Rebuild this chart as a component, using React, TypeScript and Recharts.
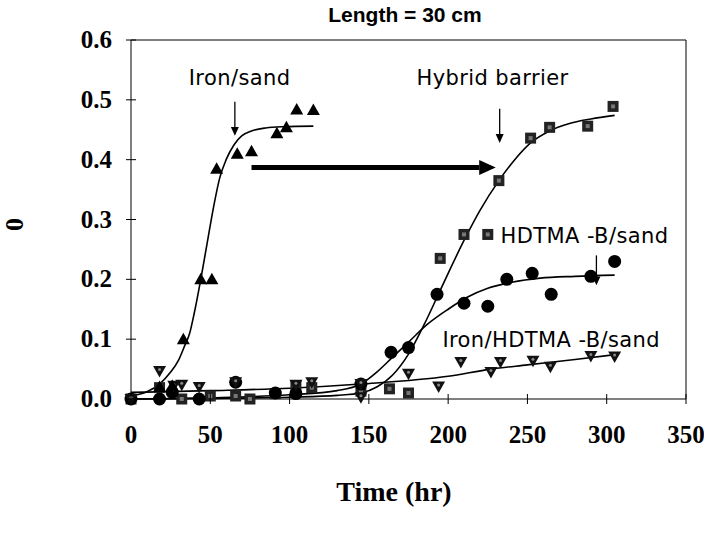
import {
  ComposedChart,
  Scatter,
  Line,
  XAxis,
  YAxis,
  ReferenceLine,
  ReferenceDot,
} from 'recharts'

// measured points (time in hr, relative value)
const ironSandT = [18, 26, 33, 44, 51, 54, 67, 76, 92, 98, 104.5, 115]
const ironSandV = [0.02, 0.022, 0.1, 0.2, 0.2, 0.385, 0.41, 0.414, 0.444, 0.454, 0.484, 0.483]

const hybridT = [0, 18, 32, 50, 66, 75, 91, 104, 114, 145, 163, 175, 195, 210, 225, 232, 252, 264, 288, 304]
const hybridV = [0, 0.019, 0, 0.005, 0.005, 0, 0.009, 0.022, 0.019, 0.013, 0.017, 0.01, 0.235, 0.275, 0.275, 0.365, 0.436, 0.454, 0.456, 0.489]

const hdtmaT = [0, 18, 26, 43, 66, 91, 104, 145, 164, 175, 193, 210, 225, 237, 253, 265, 290, 305]
const hdtmaV = [0, 0, 0.011, 0, 0.028, 0.01, 0.009, 0.025, 0.078, 0.086, 0.175, 0.16, 0.155, 0.2, 0.21, 0.175, 0.205, 0.23]

const ironHdtmaT = [0, 18, 27, 32, 43, 66, 104, 114, 145, 145, 175, 194, 208, 227, 233, 253.5, 264.5, 290, 305]
const ironHdtmaV = [0, 0.047, 0.022, 0.024, 0.02, 0.028, 0.024, 0.028, 0.003, 0.025, 0.042, 0.021, 0.062, 0.045, 0.062, 0.064, 0.054, 0.072, 0.071]

// fitted curves as drawn in the figure
const ironSandFitT = [0, 10, 18, 25, 30, 34, 37, 40, 44, 48, 52, 56, 60, 65, 70, 76, 85, 96, 115]
const ironSandFitV = [0.005, 0.012, 0.025, 0.045, 0.065, 0.09, 0.11, 0.145, 0.2, 0.26, 0.32, 0.37, 0.4, 0.425, 0.44, 0.448, 0.453, 0.455, 0.456]

const hybridFitT = [0, 50, 100, 130, 145, 155, 165, 175, 185, 193, 200, 210, 220, 232, 242, 252, 264, 276, 290, 305]
const hybridFitV = [0, 0.001, 0.003, 0.006, 0.01, 0.02, 0.04, 0.075, 0.125, 0.17, 0.21, 0.265, 0.315, 0.365, 0.4, 0.428, 0.448, 0.46, 0.468, 0.474]

const hdtmaFitT = [0, 50, 100, 130, 145, 155, 165, 175, 187, 200, 212, 225, 240, 258, 280, 305]
const hdtmaFitV = [0, 0.002, 0.007, 0.014, 0.025, 0.045, 0.07, 0.095, 0.125, 0.15, 0.17, 0.185, 0.195, 0.202, 0.205, 0.207]

const ironHdtmaFitT = [0, 50, 100, 145, 200, 227, 250, 280, 305]
const ironHdtmaFitV = [0.011, 0.014, 0.018, 0.025, 0.038, 0.05, 0.057, 0.066, 0.074]

const xTicks = [0, 50, 100, 150, 200, 250, 300, 350]
const yTicks = [0, 0.1, 0.2, 0.3, 0.4, 0.5, 0.6]

const toPts = (t: number[], v: number[]) => t.map((x, i) => ({ x, y: v[i] }))

const serif = '"Liberation Serif", "Times New Roman", serif'
const sans = '"DejaVu Sans", sans-serif'
const titleFont = '"Liberation Sans", Arial, sans-serif'

const UpTri = ({ cx, cy }: any) => (
  <polygon points={`${cx},${cy - 6.5} ${cx - 6.5},${cy + 5} ${cx + 6.5},${cy + 5}`} fill="#000" />
)
const DownTri = ({ cx, cy }: any) => (
  <g>
    <polygon points={`${cx - 6.5},${cy - 5} ${cx + 6.5},${cy - 5} ${cx},${cy + 6.5}`} fill="#111" />
    <circle cx={cx} cy={cy - 1.5} r={1.5} fill="#888" />
  </g>
)
const Sq = ({ cx, cy }: any) => (
  <g>
    <rect x={cx - 5.5} y={cy - 5.5} width={11} height={11} fill="#222" />
    <rect x={cx - 2} y={cy - 2} width={4} height={4} fill="#777" />
  </g>
)
const Dot = ({ cx, cy }: any) => <circle cx={cx} cy={cy} r={6.5} fill="#000" />

const XTick = ({ x, y, payload }: any) => (
  <g>
    <line x1={x} y1={y - 5} x2={x} y2={y + 5} stroke="#000" />
    <text x={x} y={y + 44} textAnchor="middle" fontFamily={serif} fontWeight="bold" fontSize={25} fill="#000">
      {payload.value}
    </text>
  </g>
)
const YTick = ({ x, y, payload }: any) => (
  <g>
    <line x1={x - 5} y1={y} x2={x + 5} y2={y} stroke="#000" />
    <text x={x - 19} y={y + 8} textAnchor="end" fontFamily={serif} fontWeight="bold" fontSize={25} fill="#000">
      {payload.value.toFixed(1)}
    </text>
  </g>
)
const RTick = ({ x, y }: any) => <line x1={x - 5} y1={y} x2={x + 5} y2={y} stroke="#000" />

const YTitle = ({ viewBox }: any) => {
  const cy = viewBox.y + viewBox.height / 2 + 5
  return (
    <text x={23} y={cy} transform={`rotate(-90, 23, ${cy})`} textAnchor="middle" fontFamily={serif} fontWeight="bold" fontSize={26} fill="#000">
      0
    </text>
  )
}

const Arrow = ({ x1, y1, x2, y2, width = 1.3, head = 6 }: any) => {
  const ang = Math.atan2(y2 - y1, x2 - x1)
  const len = head * 2.2
  const bx = x2 - Math.cos(ang) * len
  const by = y2 - Math.sin(ang) * len
  const px = -Math.sin(ang) * head
  const py = Math.cos(ang) * head
  return (
    <g>
      <line x1={x1} y1={y1} x2={bx} y2={by} stroke="#000" strokeWidth={width} />
      <polygon points={`${x2},${y2} ${bx + px},${by + py} ${bx - px},${by - py}`} fill="#000" />
    </g>
  )
}

const Note = (text: string) => ({ cx, cy }: any) => (
  <text x={cx} y={cy} textAnchor="middle" dominantBaseline="middle" fontFamily={sans} fontSize={21} letterSpacing={0.4} fill="#000">
    {text}
  </text>
)

export default function App() {
  return (
    <div style={{ position: 'relative', width: 704, height: 546 }}>
      <style>{`body{margin:0;overflow:hidden}`}</style>
      <ComposedChart width={704} height={546} margin={{ top: 40, right: 8, bottom: 37, left: 0 }}>
        <XAxis
          type="number"
          dataKey="x"
          domain={[0, 350]}
          ticks={xTicks}
          tickSize={0}
          tickMargin={0}
          tickLine={false}
          tick={<XTick />}
          stroke="#000"
          height={110}
          interval={0}
        />
        <YAxis
          type="number"
          dataKey="y"
          domain={[0, 0.6]}
          ticks={yTicks}
          tickSize={0}
          tickMargin={0}
          tickLine={false}
          tick={<YTick />}
          stroke="#000"
          width={131}
          interval={0}
          label={<YTitle />}
        />
        <YAxis
          yAxisId="r"
          orientation="right"
          type="number"
          domain={[0, 0.6]}
          ticks={yTicks}
          tickSize={0}
          tickMargin={0}
          tickLine={false}
          tick={<RTick />}
          stroke="#000"
          width={10}
          interval={0}
        />
        <ReferenceLine y={0.6} stroke="#000" />

        <Line data={toPts(ironSandFitT, ironSandFitV)} dataKey="y" type="monotone" stroke="#000" strokeWidth={1.6} dot={false} isAnimationActive={false} />
        <Line data={toPts(hybridFitT, hybridFitV)} dataKey="y" type="monotone" stroke="#000" strokeWidth={1.6} dot={false} isAnimationActive={false} />
        <Line data={toPts(hdtmaFitT, hdtmaFitV)} dataKey="y" type="monotone" stroke="#000" strokeWidth={1.6} dot={false} isAnimationActive={false} />
        <Line data={toPts(ironHdtmaFitT, ironHdtmaFitV)} dataKey="y" type="monotone" stroke="#000" strokeWidth={1.6} dot={false} isAnimationActive={false} />

        <Scatter data={toPts(hybridT, hybridV)} shape={<Sq />} isAnimationActive={false} />
        <Scatter data={toPts(hdtmaT, hdtmaV)} shape={<Dot />} isAnimationActive={false} />
        <Scatter data={toPts(ironHdtmaT, ironHdtmaV)} shape={<DownTri />} isAnimationActive={false} />
        <Scatter data={toPts(ironSandT, ironSandV)} shape={<UpTri />} isAnimationActive={false} />

        <ReferenceLine segment={[{ x: 76, y: 0.387 }, { x: 230, y: 0.387 }]} shape={(p: any) => <Arrow {...p} width={5} head={7.5} />} />
        <ReferenceLine segment={[{ x: 65.5, y: 0.497 }, { x: 65.5, y: 0.44 }]} shape={(p: any) => <Arrow {...p} head={4} />} />
        <ReferenceLine segment={[{ x: 232.5, y: 0.485 }, { x: 232.5, y: 0.428 }]} shape={(p: any) => <Arrow {...p} head={4} />} />
        <ReferenceLine segment={[{ x: 293.5, y: 0.24 }, { x: 293.5, y: 0.19 }]} shape={(p: any) => <Arrow {...p} head={4} />} />

        <ReferenceDot x={68.5} y={0.535} r={0} shape={Note('Iron/sand')} />
        <ReferenceDot x={228} y={0.535} r={0} shape={Note('Hybrid barrier')} />
        <ReferenceDot x={286} y={0.27} r={0} shape={Note('HDTMA -B/sand')} />
        <ReferenceDot x={265} y={0.097} r={0} shape={Note('Iron/HDTMA -B/sand')} />
      </ComposedChart>
      <div style={{ position: 'absolute', left: 0, top: 3, width: 810, textAlign: 'center', fontFamily: titleFont, fontWeight: 'bold', fontSize: 21, zIndex: 1 }}>
        Length = 30 cm
      </div>
      <div style={{ position: 'absolute', left: 294, top: 476, width: 200, textAlign: 'center', fontFamily: serif, fontWeight: 'bold', fontSize: 28, zIndex: 1 }}>
        Time (hr)
      </div>
    </div>
  )
}
